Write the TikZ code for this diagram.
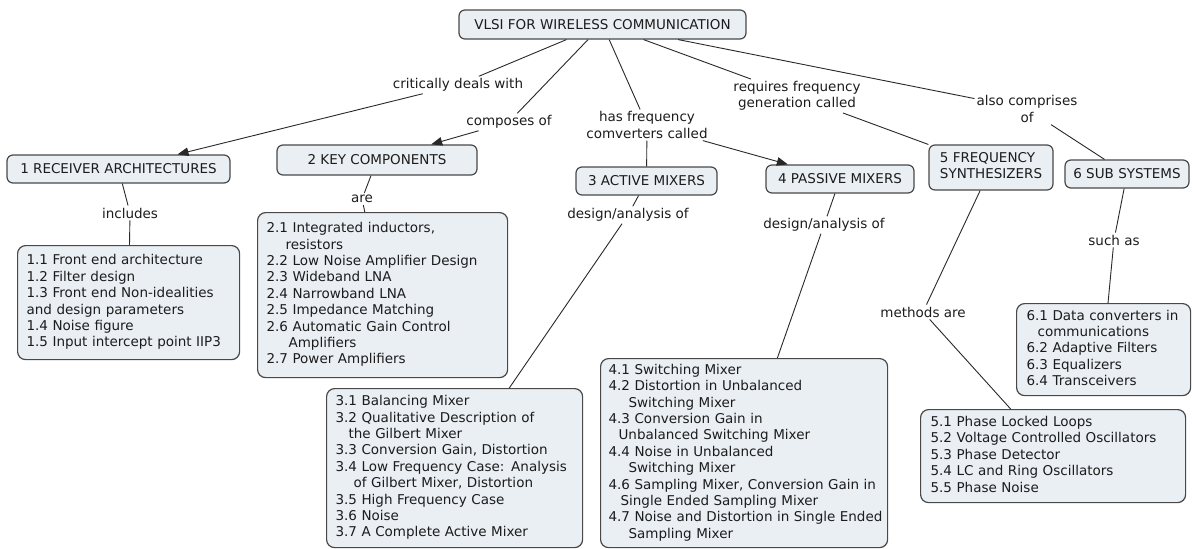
\documentclass[tikz,border=0pt]{standalone}
\usepackage{fontspec}
\setmainfont{DejaVu Sans}
\usetikzlibrary{arrows.meta}
\definecolor{boxfill}{RGB}{233,239,243}
\definecolor{boxline}{RGB}{72,72,72}
\definecolor{ink}{RGB}{28,28,28}
\definecolor{wirecol}{RGB}{40,40,40}
\newcommand\lines[1]{\begin{tabular}{@{}l@{}}#1\end{tabular}}
\newcommand\ind[1]{\hspace*{#1pt}}

\begin{document}
\begin{tikzpicture}[x=1pt,y=-1pt,
  every node/.style={font=\fontsize{13.5}{16.4}\selectfont, text=ink},
  concept/.style={draw=boxline, fill=boxfill, line width=1.2pt, rounded corners=6pt,
                  inner sep=0pt, align=center},
  topic/.style={concept, rounded corners=8pt, anchor=north west, align=left,
                inner xsep=9pt, inner ysep=0pt},
  phrase/.style={inner sep=2pt, align=center},
  wire/.style={draw=wirecol, line width=0.9pt},
  tip/.style={-{Triangle[length=11pt,width=8.5pt]}}
]
\useasboundingbox (0,0) rectangle (1192,549);

% main concept
\node[concept, minimum width=287pt, minimum height=29pt] (root) at (602.5,24.5)
  {VLSI FOR WIRELESS COMMUNICATION};

% chapter concepts
\node[concept, minimum width=223pt, minimum height=28pt] (c1) at (118.5,169) {1 RECEIVER ARCHITECTURES};
\node[concept, minimum width=200pt, minimum height=30pt] (c2) at (377,160) {2 KEY COMPONENTS};
\node[concept, minimum width=141pt, minimum height=28pt] (c3) at (646.5,181) {3 ACTIVE MIXERS};
\node[concept, minimum width=148pt, minimum height=28pt] (c4) at (840,179) {4 PASSIVE MIXERS};
\node[concept, minimum width=124pt, minimum height=45pt] (c5) at (991,167.5)
  {\lines{5 FREQUENCY\\SYNTHESIZERS}};
\node[concept, minimum width=124pt, minimum height=28pt] (c6) at (1127,174) {6 SUB SYSTEMS};

% linking phrases from the main concept
\node[phrase] (p1) at (458,85) {critically deals with};
\node[phrase] (p2) at (509,122) {composes of};
\node[phrase] (p3) at (647,125) {has frequency\\comverters called};
\node[phrase] (p4) at (797,96) {requires frequency\\generation called};
\node[phrase] (p5) at (1027,109) {also comprises\\of};

% linking phrases below the chapters
\node[phrase] (q1) at (130,213) {includes};
\node[phrase] (q2) at (362,199) {are};
\node[phrase] (q3) at (628,215) {design/analysis of};
\node[phrase] (q4) at (824,225) {design/analysis of};
\node[phrase] (q5) at (923,312) {methods are};
\node[phrase] (q6) at (1114,240) {such as};

% topic lists
\node[topic, text width=204pt, minimum height=114pt] (t1) at (17,245) {\lines{%
  1.1 Front end architecture\\
  1.2 Filter design\\
  1.3 Front end Non-idealities\\
  and design parameters\\
  1.4 Noise figure\\
  1.5 Input intercept point IIP3}};
\node[topic, text width=232pt, minimum height=165pt] (t2) at (257,212) {\lines{%
  2.1 Integrated inductors,\\
  \ind{19}resistors\\
  2.2 Low Noise Amplifier Design\\
  2.3 Wideband LNA\\
  2.4 Narrowband LNA\\
  2.5 Impedance Matching\\
  2.6 Automatic Gain Control\\
  \ind{22}Amplifiers\\
  2.7 Power Amplifiers}};
\node[topic, text width=238pt, minimum height=159pt] (t3) at (326,388) {\lines{%
  3.1 Balancing Mixer\\
  3.2 Qualitative Description of\\
  \ind{13}the Gilbert Mixer\\
  3.3 Conversion Gain, Distortion\\
  3.4 Low Frequency Case: Analysis\\
  \ind{18}of Gilbert Mixer, Distortion\\
  3.5 High Frequency Case\\
  3.6 Noise\\
  3.7 A Complete Active Mixer}};
\node[topic, text width=271pt, minimum height=189pt, inner xsep=8pt] (t4) at (600,358) {\lines{%
  4.1 Switching Mixer\\
  4.2 Distortion in Unbalanced\\
  \ind{20}Switching Mixer\\
  4.3 Conversion Gain in\\
  \ind{10}Unbalanced Switching Mixer\\
  4.4 Noise in Unbalanced\\
  \ind{20}Switching Mixer\\
  4.6 Sampling Mixer, Conversion Gain in\\
  \ind{12}Single Ended Sampling Mixer\\
  4.7 Noise and Distortion in Single Ended\\
  \ind{20}Sampling Mixer}};
\node[topic, text width=245pt, minimum height=93pt, inner xsep=10pt] (t5) at (920,409) {\lines{%
  5.1 Phase Locked Loops\\
  5.2 Voltage Controlled Oscillators\\
  5.3 Phase Detector\\
  5.4 LC and Ring Oscillators\\
  5.5 Phase Noise}};
\node[topic, text width=154pt, minimum height=92pt, inner xsep=10pt] (t6) at (1016,303) {\lines{%
  6.1 Data converters in\\
  \ind{11}communications\\
  6.2 Adaptive Filters\\
  6.3 Equalizers\\
  6.4 Transceivers}};

% connections from the main concept
\draw[wire] (root) -- (p1);
\draw[wire, tip] (p1) -- (c1);
\draw[wire] (root) -- (p2);
\draw[wire, tip] (p2) -- (c2);
\draw[wire] (root) -- (p3);
\draw[wire] (p3) -- (c3);
\draw[wire, tip] (p3) -- (c4);
\draw[wire] (root) -- (p4);
\draw[wire] (p4) -- (c5);
\draw[wire] (root) -- (p5);
\draw[wire] (p5) -- (c6);

% connections from the chapters to their topics
\draw[wire] (c1) -- (q1);
\draw[wire] (q1) -- (t1);
\draw[wire] (c2) -- (q2);
\draw[wire] (q2) -- (t2);
\draw[wire] (c3) -- (q3);
\draw[wire] (q3) -- (t3);
\draw[wire] (c4) -- (q4);
\draw[wire] (q4) -- (t4);
\draw[wire] (c5) -- (q5);
\draw[wire] (q5) -- (t5);
\draw[wire] (c6) -- (q6);
\draw[wire] (q6) -- (t6);
\end{tikzpicture}
\end{document}
